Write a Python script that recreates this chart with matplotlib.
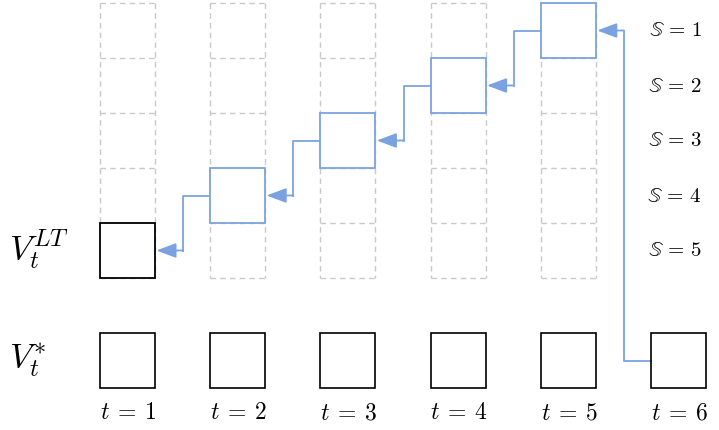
import matplotlib
matplotlib.use("Agg")
import matplotlib.pyplot as plt
from matplotlib.patches import Rectangle, FancyArrowPatch

plt.rcParams['mathtext.fontset'] = 'cm'

# layout data (pixel units, y grows downward)
steps = [1, 2, 3, 4, 5, 6]
states = [1, 2, 3, 4, 5]
# state chosen at each step (None = no long-term box drawn)
chosen = [5, 4, 3, 2, 1, None]
step_labels = [r"$t\:=\:%d$" % t for t in steps]
state_labels = [r"$\mathbb{S}\,=\,%d$" % s for s in states]

blue = "#7ba2e0"
grey = "#c9c9c9"

x0, dx, w = 100, 110.2, 55
y0, dy = 3, 55
ystar = 333

fig = plt.figure(figsize=(7.19, 4.30), dpi=100)
ax = fig.add_axes([0, 0, 1, 1])
ax.set_xlim(0, 719)
ax.set_ylim(430, 0)
ax.axis("off")

dash = dict(color=grey, lw=1.0, ls=(0, (4, 3)), zorder=1)

# grid of possible states (dashed) and the chosen one
for i, t in enumerate(steps):
    x = x0 + i * dx
    # bottom row V*
    ax.add_patch(Rectangle((x, ystar), w, w, fill=False, ec="black", lw=1.2, zorder=3))
    ax.text(x + w / 2 + 1, 412, step_labels[i], ha="center", va="center", fontsize=17)
    if chosen[i] is None:
        continue
    ytop, ybot = y0, y0 + len(states) * dy
    ax.plot([x, x], [ytop, ybot], **dash)
    ax.plot([x + w, x + w], [ytop, ybot], **dash)
    for k in range(len(states) + 1):
        ax.plot([x, x + w], [y0 + k * dy] * 2, **dash)
    y = y0 + (chosen[i] - 1) * dy
    col = "black" if i == 0 else blue
    ax.add_patch(Rectangle((x, y), w, w, fc="white", ec=col, lw=1.3, zorder=3))

# arrows going back in time
for i in range(len(steps) - 1, 0, -1):
    x = x0 + i * dx
    if chosen[i] is None:
        ys = ystar + w / 2
    else:
        ys = y0 + (chosen[i] - 1) * dy + w / 2
    yt = y0 + (chosen[i - 1] - 1) * dy + w / 2
    xm = x - 27
    xt = x0 + (i - 1) * dx + w
    ax.plot([x, xm, xm], [ys, ys, yt], color=blue, lw=1.3, zorder=2)
    ax.add_patch(FancyArrowPatch((xm, yt), (xt, yt), arrowstyle="-|>,head_length=1.2,head_width=0.45",
                                 mutation_scale=10, color=blue, lw=1.3,
                                 shrinkA=0, shrinkB=1, zorder=4))

for j, s in enumerate(states):
    ax.text(702, y0 + j * dy + w / 2, state_labels[j], ha="right", va="center", fontsize=15)

ax.text(9, 250, r"$V_t^{LT}$", ha="left", va="center", fontsize=25)
ax.text(9, 360, r"$V_t^{*}$", ha="left", va="center", fontsize=25)

fig.savefig("out.png", dpi=100)
